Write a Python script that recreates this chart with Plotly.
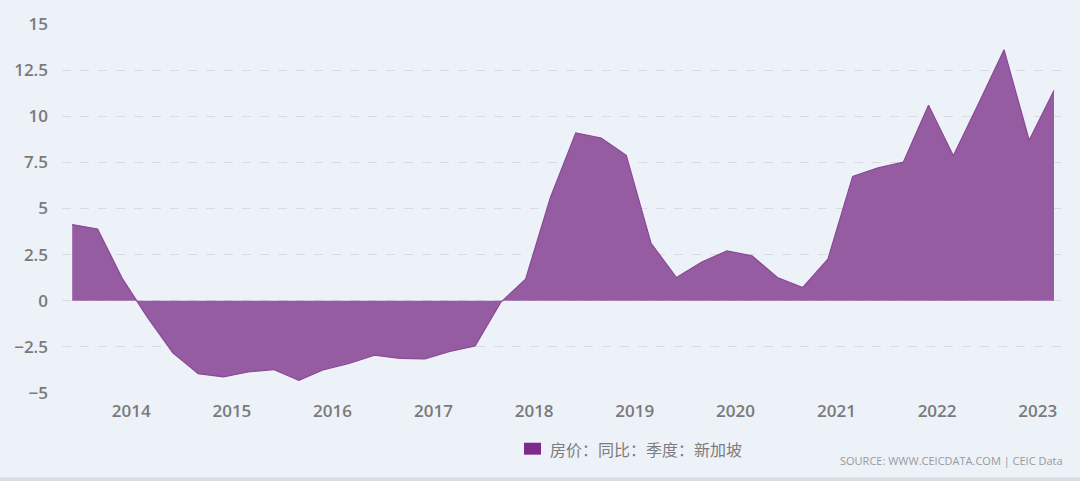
import plotly.graph_objects as go

dates = ["2013-06-01", "2013-09-01", "2013-12-01",
         "2014-03-01", "2014-06-01", "2014-09-01", "2014-12-01",
         "2015-03-01", "2015-06-01", "2015-09-01", "2015-12-01",
         "2016-03-01", "2016-06-01", "2016-09-01", "2016-12-01",
         "2017-03-01", "2017-06-01", "2017-09-01", "2017-12-01",
         "2018-03-01", "2018-06-01", "2018-09-01", "2018-12-01",
         "2019-03-01", "2019-06-01", "2019-09-01", "2019-12-01",
         "2020-03-01", "2020-06-01", "2020-09-01", "2020-12-01",
         "2021-03-01", "2021-06-01", "2021-09-01", "2021-12-01",
         "2022-03-01", "2022-06-01", "2022-09-01", "2022-12-01",
         "2023-03-01"]
values = [4.13, 3.89, 1.17,
          -0.9, -2.83, -3.95, -4.13,
          -3.86, -3.73, -4.31, -3.73,
          -3.4, -2.95, -3.12, -3.15,
          -2.75, -2.45, -0.1, 1.17,
          5.6, 9.1, 8.82, 7.88,
          3.11, 1.26, 2.1, 2.7,
          2.43, 1.26, 0.72, 2.25,
          6.74, 7.2, 7.52, 10.6,
          7.86, 10.7, 13.6, 8.7,
          11.4]
series_name = "房价：同比：季度：新加坡"
year_ticks = ["2014-01-01", "2015-01-01", "2016-01-01", "2017-01-01", "2018-01-01",
              "2019-01-01", "2020-01-01", "2021-01-01", "2022-01-01", "2023-01-01"]
year_labels = ["2014", "2015", "2016", "2017", "2018", "2019", "2020", "2021", "2022", "2023"]
y_ticks = [-5, -2.5, 0, 2.5, 5, 7.5, 10, 12.5, 15]
y_labels = ["−5", "−2.5", "0", "2.5", "5", "7.5", "10", "12.5", "15"]

BG = "#EDF1F8"
SERIES_COLOR = "#7D2B8B"
TICKFONT = dict(size=17, color="#7A7A7A", family="Open Sans, sans-serif", weight=600)

fig = go.Figure()
fig.add_trace(go.Scatter(
    x=dates, y=values, name=series_name, mode="lines",
    line=dict(color="#8A4896", width=1.2),
    fill="tozeroy", fillcolor="rgba(150,92,161,1)",
    showlegend=False,
))

fig.update_layout(
    width=1080, height=481,
    paper_bgcolor=BG, plot_bgcolor=BG,
    margin=dict(l=62, r=18, t=22, b=88),
    font=dict(family="Open Sans, Noto Sans CJK SC, sans-serif", color="#666666"),
    showlegend=False,
    xaxis=dict(
        range=["2013-04-25", "2023-03-30"],
        tickvals=year_ticks, ticktext=year_labels,
        showgrid=False, zeroline=False, showline=False,
        ticks="", tickfont=TICKFONT,
        ticklabelstandoff=6,
    ),
    yaxis=dict(
        range=[-5, 15], tickvals=y_ticks, ticktext=y_labels,
        showgrid=True, gridcolor="#D9DBDF", griddash="dash", gridwidth=1,
        zeroline=False, showline=False,
        tickfont=TICKFONT,
        ticklabelstandoff=13,
    ),
    annotations=[
        dict(
            text=series_name, showarrow=False,
            xref="paper", yref="paper", x=0.486, xanchor="left", y=-0.151, yanchor="middle",
            font=dict(size=16, color="#7C7C7C", family="Noto Sans CJK SC, sans-serif"),
        ),
        dict(
            text="SOURCE: WWW.CEICDATA.COM | CEIC Data", showarrow=False,
            xref="paper", yref="paper", x=1.003, xanchor="right", y=-0.183, yanchor="middle",
            font=dict(size=11, color="#9A9A9A"),
        ),
    ],
    shapes=[
        # legend swatch
        dict(type="rect", xref="paper", yref="paper", x0=0.462, x1=0.479, y0=-0.1348, y1=-0.1671,
             fillcolor=SERIES_COLOR, line=dict(width=0)),
        # bottom strip
        dict(type="rect", xref="paper", yref="paper", x0=-0.07, x1=1.02, y0=-0.2290, y1=-0.245,
             fillcolor="#DADCE0", line=dict(width=0), layer="below"),
    ],
)

fig.write_html("out.html", config={"displayModeBar": False},
               post_script="document.body.style.margin='0';document.body.style.background='#EDF1F8';")
